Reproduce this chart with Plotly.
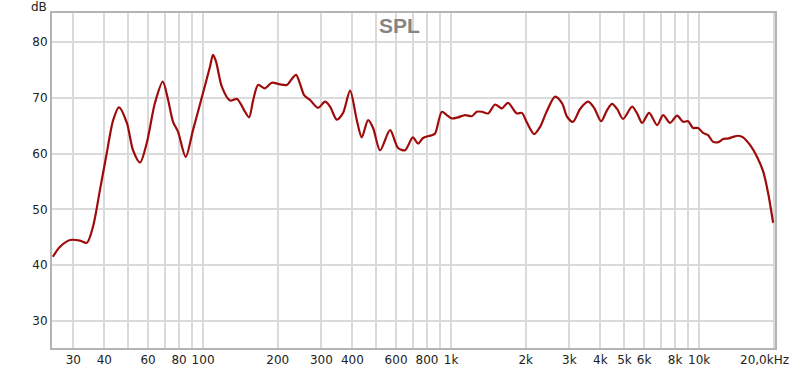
import math
import plotly.graph_objects as go

# Frequency response (SPL)
freq_hz = [24.8, 26.5, 29.1, 31.9, 34.0, 36.0, 38.4, 40.9, 43.4, 45.8, 49.3, 52.2, 55.7, 59.3,
           64.0, 68.8, 72.3, 75.7, 79.3, 85.1, 91.1, 100, 106.7, 109.7, 112.8, 119.0, 128.5,
           137.1, 146.3, 153.3, 159.1, 166.7, 177.8, 189.2, 204.4, 217.6, 226.3, 237.1, 246.1,
           255.5, 270.1, 290.9, 310.5, 325.2, 346.0, 366.9, 391.5, 416.7, 436.5, 462.8, 484.8,
           517.2, 567.5, 611.5, 652.5, 700.8, 736.1, 771.2, 835.8, 862.0, 917.6, 961.0, 1006,
           1067, 1139, 1212, 1270, 1330, 1410, 1504, 1601, 1697, 1841, 1928, 2025, 2161, 2285,
           2416, 2627, 2803, 2936, 3104, 3313, 3568, 3773, 4025, 4256, 4459, 4670, 4937, 5368,
           5623, 5891, 6286, 6772, 7159, 7640, 8154, 8620, 9030, 9458, 9908, 10378, 10871,
           11388, 12040, 12498, 13092, 13714, 14366, 15047, 16060, 17136, 18122, 18982, 19884]
spl_db = [41.5, 43.3, 44.5, 44.4, 44.0, 46.9, 53.5, 60.1, 66.0, 68.3, 65.5, 60.6, 58.4, 61.9,
          69.1, 72.9, 69.6, 65.7, 63.9, 59.4, 64.2, 70.9, 75.6, 77.7, 76.5, 72.0, 69.5,
          69.8, 67.8, 66.5, 69.5, 72.3, 71.7, 72.7, 72.4, 72.3, 73.2, 74.1, 72.5,
          70.5, 69.6, 68.2, 69.3, 68.4, 66.1, 67.3, 71.3, 66.0, 62.9, 66.0, 64.6,
          60.6, 64.2, 61.0, 60.6, 62.9, 61.8, 62.8, 63.3, 63.6, 67.5, 66.9, 66.3,
          66.5, 66.9, 66.7, 67.5, 67.5, 67.2, 68.8, 68.1, 69.1, 67.2, 67.3, 65.5, 63.5, 64.8,
          67.3, 70.2, 69.0, 66.6, 65.7, 68.0, 69.3, 68.2, 65.8, 67.8, 68.9, 68.0, 66.2, 68.4,
          67.2, 65.5, 67.3, 65.1, 66.9, 65.5, 66.8, 65.7, 65.8, 64.6, 64.6, 63.7, 63.3,
          62.1, 62.1, 62.6, 62.7, 63.0, 63.2, 62.9, 61.5, 59.4, 56.8, 52.9, 47.6]

grid_freqs = [30, 40, 50, 60, 70, 80, 90, 100, 200, 300, 400, 500, 600, 700, 800, 900,
              1000, 2000, 3000, 4000, 5000, 6000, 7000, 8000, 9000, 10000, 20000]
grid_labels = ["30", "40", "", "60", "", "80", "", "100", "200", "300", "400", "", "600", "",
               "800", "", "1k", "2k", "3k", "4k", "5k", "6k", "", "8k", "", "10k", ""]
end_freq = 20000
end_label = "20,0kHz"
decade_freqs = [100, 1000, 10000]
db_ticks = [30, 40, 50, 60, 70, 80]

fig = go.Figure()
fig.add_trace(go.Scatter(x=freq_hz, y=spl_db, mode="lines",
                         line=dict(color="#9e0b0b", width=2.2, shape="spline", smoothing=0.8),
                         hoverinfo="skip", showlegend=False))

shapes = [dict(type="line", xref="x", yref="paper", x0=math.log10(f), x1=math.log10(f),
               y0=0, y1=1, line=dict(color="#b2b2b2", width=2), layer="between")
          for f in decade_freqs]

fig.update_layout(
    width=800, height=369,
    margin=dict(l=52, r=25, t=13, b=21),
    paper_bgcolor="white", plot_bgcolor="white",
    font=dict(family="DejaVu Sans", size=12, color="#222222"),
    shapes=shapes,
    xaxis=dict(type="log", range=[math.log10(24.6), math.log10(20230)],
               tickmode="array", tickvals=grid_freqs, ticktext=grid_labels,
               showgrid=True, gridcolor="#dadada", gridwidth=2, ticks="",
               showline=True, linecolor="#b4b4b4", linewidth=2, mirror=True,
               zeroline=False, automargin=False, tickfont=dict(size=12, color="#222222")),
    yaxis=dict(range=[25.15, 85.2], tickmode="array", tickvals=db_ticks,
               showgrid=True, gridcolor="#dadada", gridwidth=2, ticks="",
               showline=True, linecolor="#b4b4b4", linewidth=2, mirror=True,
               zeroline=False, automargin=False, tickfont=dict(size=12, color="#222222")),
    annotations=[
        dict(text="SPL", xref="paper", yref="paper", x=0.4806, y=1, yshift=-12,
             xanchor="center", yanchor="middle", showarrow=False,
             font=dict(family="Liberation Sans", size=21, color="#858585", weight="bold")),
        dict(text="dB", xref="paper", yref="paper", x=0, y=1, xshift=-3, yshift=6,
             xanchor="right", yanchor="middle", showarrow=False,
             font=dict(family="DejaVu Sans", size=12, color="#222222")),
        dict(text=end_label, xref="x", yref="paper", x=math.log10(end_freq), y=0,
             xshift=-9, yshift=-3, xanchor="center", yanchor="top", showarrow=False,
             font=dict(family="DejaVu Sans", size=12, color="#222222")),
    ],
)

fig.write_html("out.html", config={"displayModeBar": False},
               post_script="document.body.style.margin='0';document.body.style.overflow='hidden';")
